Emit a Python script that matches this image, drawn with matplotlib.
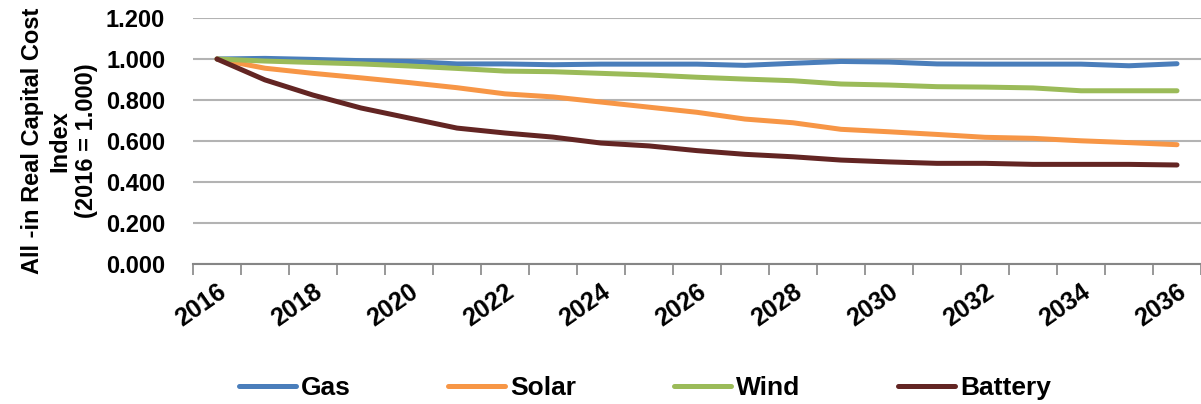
import numpy as np
import matplotlib
matplotlib.use("Agg")
import matplotlib.pyplot as plt

plt.rcParams["font.family"] = ["Liberation Sans", "DejaVu Sans"]
plt.rcParams["font.weight"] = "bold"

years = list(range(2016, 2037))
gas = [1.000, 1.003, 0.998, 0.992, 0.988, 0.976, 0.976, 0.972, 0.975, 0.975, 0.975,
       0.969, 0.979, 0.988, 0.985, 0.976, 0.975, 0.975, 0.975, 0.967, 0.977]
solar = [1.000, 0.955, 0.930, 0.908, 0.885, 0.860, 0.830, 0.815, 0.790, 0.765, 0.740,
         0.707, 0.689, 0.657, 0.645, 0.632, 0.618, 0.613, 0.601, 0.592, 0.582]
wind = [1.000, 0.990, 0.983, 0.976, 0.966, 0.954, 0.941, 0.938, 0.930, 0.922, 0.911,
        0.902, 0.894, 0.878, 0.873, 0.865, 0.863, 0.859, 0.845, 0.845, 0.845]
battery = [1.000, 0.898, 0.824, 0.761, 0.712, 0.663, 0.639, 0.619, 0.590, 0.576, 0.553,
           0.535, 0.523, 0.507, 0.498, 0.491, 0.491, 0.486, 0.486, 0.486, 0.483]

series = [("Gas", gas, "#4a7ebb"), ("Solar", solar, "#f79646"),
          ("Wind", wind, "#9bbb59"), ("Battery", battery, "#632523")]

fig = plt.figure(figsize=(12.01, 4.04), dpi=100)
ax = fig.add_axes([193 / 1201, 1 - 264 / 404, 1008 / 1201, 246 / 404])

for name, vals, color in series:
    ax.plot(years, vals, color=color, lw=3.6, label=name,
            solid_capstyle="round", solid_joinstyle="round")

ax.set_xlim(2015.5, 2036.39)
ax.set_ylim(0, 1.2)
ax.set_yticks(np.arange(0, 1.21, 0.2))
ax.set_yticklabels([f"{v:.3f}" for v in np.arange(0, 1.21, 0.2)])
ax.yaxis.grid(True, color="#b3b3b3", lw=1.5)
ax.set_axisbelow(True)

ax.set_xticks(years[::2])
ax.set_xticks(np.arange(2015.5, 2037, 1), minor=True)
ax.tick_params(axis="x", which="major", length=0, pad=11, labelsize=18)
ax.tick_params(axis="x", which="minor", length=8, width=1.2, color="#868686")
ax.tick_params(axis="y", length=0, pad=20, labelsize=17)
for lbl in ax.get_xticklabels():
    lbl.set_rotation(35)
    lbl.set_ha("right")
    lbl.set_va("top")
    lbl.set_rotation_mode("anchor")
    lbl.set_fontweight("bold")
for lbl in ax.get_yticklabels():
    lbl.set_fontweight("bold")

for side in ["top", "right", "left"]:
    ax.spines[side].set_visible(False)
ax.spines["bottom"].set_color("#868686")
ax.spines["bottom"].set_linewidth(1.5)

ax.set_ylabel("All -in Real Capital Cost\nIndex\n(2016 = 1.000)", fontsize=17,
              fontweight="bold", linespacing=1.2, labelpad=6)

fig.legend(loc="center", bbox_to_anchor=(0.537, 0.04), ncol=4, frameon=False,
           prop={"size": 19, "weight": "bold"}, handlelength=2.15,
           handletextpad=0.2, columnspacing=3.7)

fig.savefig("out.png", dpi=100)
